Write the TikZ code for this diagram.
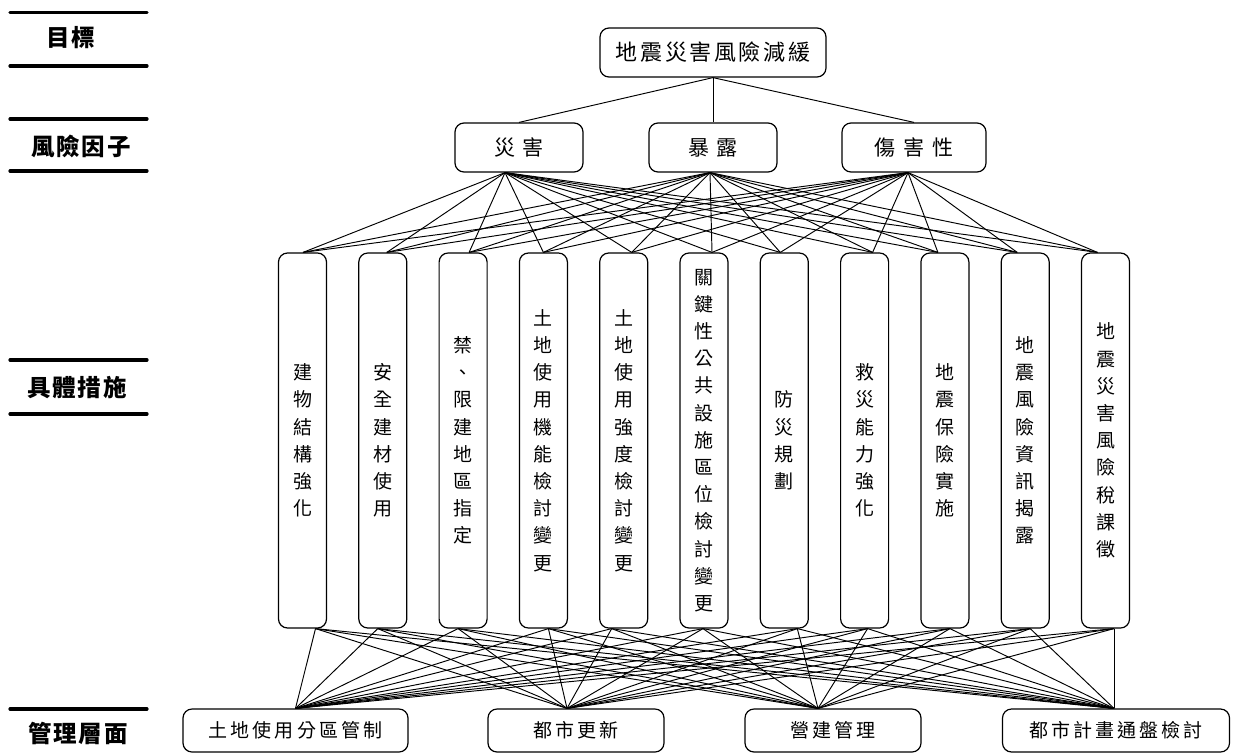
\documentclass[tikz,border=0pt]{standalone}
\usepackage{fontspec}
\newfontfamily\cjk{Noto Sans CJK TC}
\newfontfamily\cjktop[LetterSpace=12]{Noto Sans CJK TC}
\newfontfamily\cjkwide[LetterSpace=38]{Noto Sans CJK TC}
\newfontfamily\cjkbot[LetterSpace=16]{Noto Sans CJK TC}
\newfontfamily\cjklab[LetterSpace=8]{Noto Sans CJK TC}
\begin{document}
\begin{tikzpicture}[x=1pt,y=-1pt,
  box/.style={draw,line width=1.2pt,rounded corners=9pt,inner sep=0pt},
  goalbox/.style={box,minimum width=226,minimum height=49,font=\cjktop\fontsize{22}{22}\selectfont},
  factorbox/.style={box,minimum height=49,font=\cjkwide\fontsize{21}{21}\selectfont},
  measurebox/.style={box,minimum width=48,minimum height=375,align=center,font=\cjk\fontsize{19}{27.2}\selectfont},
  mgmtbox/.style={box,minimum height=43,font=\cjkbot\fontsize{19}{19}\selectfont},
  link/.style={line width=0.95pt},
  bar/.style={line width=3.2pt,line cap=round},
  levellabel/.style={inner sep=0pt,font=\cjklab\bfseries\fontsize{23.5}{23.5}\selectfont}]
\useasboundingbox (0,0) rectangle (1249,753);

% left level labels
\draw[bar] (10,12.7) -- (147,12.7);
\draw[bar] (10,66) -- (147,66);
\draw[bar] (10,119) -- (147,119);
\draw[bar] (10,171) -- (147,171);
\draw[bar] (10,360) -- (147,360);
\draw[bar] (10,414) -- (147,414);
\draw[bar] (10,709) -- (147,709);
\node[levellabel] (l1) at (71,38) {目標};
\node[levellabel] (l2) at (81,146) {風險因子};
\node[levellabel] (l3) at (77,388) {具體措施};
\node[levellabel] (l4) at (78,733) {管理層面};

% goal
\node[goalbox] (goal) at (713,52.5) {地震災害風險減緩};

% factors
\node[factorbox,minimum width=128] (f1) at (519,147.5) {災害};
\node[factorbox,minimum width=128] (f2) at (713,147.5) {暴露};
\node[factorbox,minimum width=144] (f3) at (914,147.5) {傷害性};

% measures
\node[measurebox] (m1) at (302.5,440.5) {建\\物\\結\\構\\強\\化};
\node[measurebox] (m2) at (382.8,440.5) {安\\全\\建\\材\\使\\用};
\node[measurebox] (m3) at (463.1,440.5) {禁\\、\\限\\建\\地\\區\\指\\定};
\node[measurebox] (m4) at (543.4,440.5) {土\\地\\使\\用\\機\\能\\檢\\討\\變\\更};
\node[measurebox] (m5) at (623.7,440.5) {土\\地\\使\\用\\強\\度\\檢\\討\\變\\更};
\node[measurebox] (m6) at (704.0,440.5) {關\\鍵\\性\\公\\共\\設\\施\\區\\位\\檢\\討\\變\\更};
\node[measurebox] (m7) at (784.3,440.5) {防\\災\\規\\劃};
\node[measurebox] (m8) at (864.6,440.5) {救\\災\\能\\力\\強\\化};
\node[measurebox] (m9) at (944.9,440.5) {地\\震\\保\\險\\實\\施};
\node[measurebox] (m10) at (1025.2,440.5) {地\\震\\風\\險\\資\\訊\\揭\\露};
\node[measurebox] (m11) at (1105.5,440.5) {地\\震\\災\\害\\風\\險\\稅\\課\\徵};

% management
\node[mgmtbox,minimum width=225] (g1) at (295.5,730.5) {土地使用分區管制};
\node[mgmtbox,minimum width=176] (g2) at (576,730.5) {都市更新};
\node[mgmtbox,minimum width=176] (g3) at (833,730.5) {營建管理};
\node[mgmtbox,minimum width=227] (g4) at (1116,730.5) {都市計畫通盤檢討};

% convergence points
\coordinate (fb1) at ([xshift=-14pt]f1.south);
\coordinate (fb2) at ([xshift=-3pt]f2.south);
\coordinate (fb3) at ([xshift=-6pt]f3.south);
\foreach \m/\dt/\db in {1/0.5/13,2/4/-5,3/6/-5,4/0/5,5/8/-12,6/8/-1,7/-4/13,8/8/3,9/-7/5,10/-8/5,11/-8/8.5}{
  \coordinate (mt\m) at ([xshift=\dt pt]m\m.north);
  \coordinate (mb\m) at ([xshift=\db pt]m\m.south);
}
\coordinate (gt1) at ([xshift=0pt]g1.north);
\coordinate (gt2) at ([xshift=-9pt]g2.north);
\coordinate (gt3) at ([xshift=-15pt]g3.north);
\coordinate (gt4) at ([xshift=-2pt]g4.north);

% connectors
\foreach \f in {1,2,3} \draw[link] (goal.south) -- (f\f.north);
\foreach \f in {1,2,3} \foreach \m in {1,...,11} \draw[link] (fb\f) -- (mt\m);
\foreach \m in {1,...,11} \foreach \g in {1,...,4} \draw[link] (mb\m) -- (gt\g);
\end{tikzpicture}
\end{document}
